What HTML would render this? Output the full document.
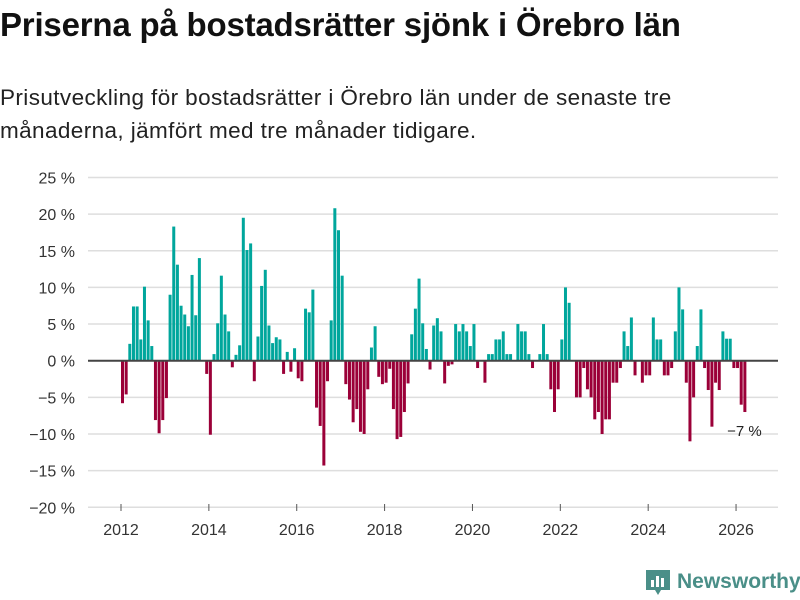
<!DOCTYPE html>
<html><head><meta charset="utf-8"><style>
body{margin:0;width:800px;height:600px;background:#fff;font-family:"Liberation Sans",sans-serif;overflow:hidden;position:relative}
h1{position:absolute;left:0;top:6px;margin:0;font-size:33px;font-weight:bold;color:#111;letter-spacing:-0.2px}
p.sub{position:absolute;left:0;top:81px;margin:0;font-size:22.5px;line-height:33px;color:#222;width:730px;letter-spacing:0.4px}
svg{position:absolute;left:0;top:0}
.logo{position:absolute;left:645px;top:568px;display:flex;align-items:center;gap:6px}
.logo span{font-size:21px;font-weight:bold;color:#4a8f88}
</style></head><body>
<h1>Priserna på bostadsrätter sjönk i Örebro län</h1>
<p class="sub">Prisutveckling för bostadsrätter i Örebro län under de senaste tre månaderna, jämfört med tre månader tidigare.</p>
<svg id="chart" width="800" height="600"></svg>
<div class="logo">
<svg width="26" height="28" style="position:static"><path d="M1 2h24v20h-9l-3 5-3-5H1z" fill="#4a8f88"/><rect x="6" y="12" width="3" height="7" fill="#fff"/><rect x="11" y="8" width="3" height="11" fill="#fff"/><rect x="16" y="10" width="3" height="9" fill="#fff"/></svg>
<span>Newsworthy</span></div>
<script>
const startYear = 2012;
const values = [
-5.8,-4.6,2.3,7.4,7.4,2.9,10.1,5.5,2.0,-8.1,-9.9,-8.1,
-5.1,9.0,18.3,13.1,7.5,6.3,4.7,11.7,6.2,14.0,0,-1.8,
-10.1,0.9,5.1,11.6,6.3,4.0,-0.9,0.8,2.1,19.5,15.1,16.0,
-2.8,3.3,10.2,12.4,4.8,2.4,3.2,2.9,-1.8,1.2,-1.5,1.7,
-2.4,-2.8,7.1,6.6,9.7,-6.4,-8.9,-14.3,-2.8,5.5,20.8,17.8,
11.6,-3.2,-5.3,-8.4,-6.6,-9.7,-10.0,-3.9,1.8,4.7,-2.2,-3.2,
-3.0,-1.1,-6.6,-10.7,-10.4,-7.0,-3.1,3.6,7.1,11.2,5.1,1.6,
-1.2,4.8,5.8,4.0,-3.1,-0.7,-0.5,5.0,4.0,5.0,4.0,2.0,
5.0,-1.0,0,-3.0,0.9,0.9,2.9,2.9,4.0,0.9,0.9,0,
5.0,4.0,4.0,0.9,-1.0,0,0.9,5.0,0.9,-3.9,-7.0,-3.9,
2.9,10.0,7.9,0,-5.0,-5.0,-1.0,-3.9,-5.0,-8.0,-7.0,-10.0,
-8.0,-8.0,-3.0,-3.0,-1.0,4.0,2.0,5.9,-2.0,0,-3.0,-2.0,
-2.0,5.9,2.9,2.9,-2.0,-2.0,-1.0,4.0,10.0,7.0,-3.0,-11.0,
-5.0,2.0,7.0,-1.0,-4.0,-9.0,-3.0,-4.0,4.0,3.0,3.0,-1.0,
-1.0,-6.0,-7.0];
const yTicks = [25,20,15,10,5,0,-5,-10,-15,-20];
const xTickYears = [2012,2014,2016,2018,2020,2022,2024,2026];
const lastLabel = "−7 %";

const NS="http://www.w3.org/2000/svg";
const svg=document.getElementById('chart');
function y(v){return 360.7 - v*7.33;}
function x(i){return 121 + i*3.661;}
function mk(t,a){const e=document.createElementNS(NS,t);for(const k in a)e.setAttribute(k,a[k]);svg.appendChild(e);return e;}
yTicks.forEach(v=>{
  const g=mk('line',{x1:88,x2:778,y1:y(v),y2:y(v),stroke:'#dedede','stroke-width':1.5});
  
  
  const t=mk('text',{x:75,y:y(v)+6,'text-anchor':'end','font-size':16,fill:'#333','font-family':'Liberation Sans, sans-serif'});
  t.textContent=(v<0?'−'+(-v):v)+' %';
  
  
});
xTickYears.forEach(yr=>{
  const xi=x((yr-startYear)*12);
  const tk=mk('line',{x1:xi,x2:xi,y1:504,y2:511,stroke:'#555','stroke-width':1});
  
  
  const t=mk('text',{x:xi,y:535,'text-anchor':'middle','font-size':16,fill:'#333','font-family':'Liberation Sans, sans-serif'});
  t.textContent=yr;
  
  
});
values.forEach((v,i)=>{
  const top=Math.min(y(v),y(0)), h=Math.abs(y(v)-y(0));
  const r=mk('rect',{x:x(i),y:top,width:3,height:h,fill:v>=0?'#00a69c':'#9b0038'});
  
  
});
const z=mk('line',{x1:88,x2:778,y1:y(0),y2:y(0),stroke:'#444','stroke-width':2});


const li=values.length-1;
const lb=mk('text',{x:x(li)+1,y:y(values[li])+24,'text-anchor':'middle','font-size':15,fill:'#222','font-family':'Liberation Sans, sans-serif'});
lb.textContent=lastLabel;


</script>
</body></html>
